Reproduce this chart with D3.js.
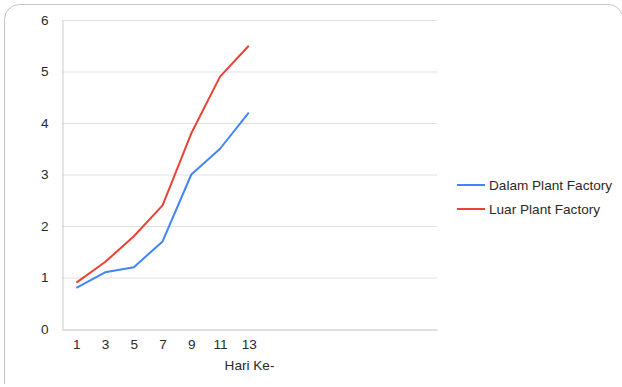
<!DOCTYPE html>
<html>
<head>
<meta charset="utf-8">
<script src="https://cdn.jsdelivr.net/npm/d3@7"></script>
<style>
  html, body { margin: 0; padding: 0; background: #fff; }
  svg { display: block; font-family: "Liberation Sans", Arial, sans-serif; }
</style>
</head>
<body>
<svg id="chart" width="622" height="387"></svg>
<script>
// Hari ke- (days) and plant growth measured inside / outside the plant factory
const days = [1, 3, 5, 7, 9, 11, 13];
const dalam = [0.8, 1.1, 1.2, 1.7, 3.0, 3.5, 4.2];
const luar = [0.9, 1.3, 1.8, 2.4, 3.8, 4.9, 5.5];
const yTicks = [0, 1, 2, 3, 4, 5, 6];
const seriesNames = ["Dalam Plant Factory", "Luar Plant Factory"];
const seriesColors = ["#4285F4", "#EA4335"];
const xTitle = "Hari Ke-";

const svg = d3.select("#chart");
const textColor = "#2a2a2a";
const fontSize = 13.6;

// card outline: left and top edges with rounded corners
svg.append("path")
  .attr("d", "M4.5,384 L4.5,19.5 A15,15 0 0 1 19.5,4.5 L608,4.5 A15,15 0 0 1 622,14")
  .attr("fill", "none")
  .attr("stroke", "#c4c4c4")
  .attr("stroke-width", 1);

const plot = { left: 62, right: 437, top: 20, bottom: 329 };

const x = d3.scaleLinear().domain([0, 26.1]).range([plot.left, plot.right]);
const y = d3.scaleLinear().domain([0, 6]).range([plot.bottom, plot.top]);

// horizontal gridlines
svg.append("g")
  .selectAll("line")
  .data(yTicks.filter(d => d > 0))
  .join("line")
  .attr("x1", plot.left).attr("x2", plot.right)
  .attr("y1", d => y(d) + 0.5).attr("y2", d => y(d) + 0.5)
  .attr("stroke", "#e0e0e0").attr("stroke-width", 1);

// y axis
const yAxis = svg.append("g")
  .attr("transform", `translate(${plot.left + 0.5},0)`)
  .call(d3.axisLeft(y).tickValues(yTicks).tickSize(0).tickPadding(14).tickFormat(d3.format("d")));
yAxis.select(".domain").attr("stroke", "#cccccc");
yAxis.selectAll("text")
  .attr("font-size", fontSize).attr("fill", textColor).attr("font-family", "Liberation Sans, Arial, sans-serif");

// x axis
const xAxis = svg.append("g")
  .attr("transform", `translate(0,${plot.bottom + 0.5})`)
  .call(d3.axisBottom(x).tickValues(days).tickSize(0).tickPadding(10).tickFormat(d3.format("d")));
xAxis.select(".domain").attr("stroke", "#bdbdbd");
xAxis.selectAll("text")
  .attr("font-size", fontSize).attr("fill", textColor).attr("font-family", "Liberation Sans, Arial, sans-serif");

// x axis title
svg.append("text")
  .attr("x", (plot.left + plot.right) / 2)
  .attr("y", 370)
  .attr("text-anchor", "middle")
  .attr("font-size", fontSize).attr("fill", textColor)
  .text(xTitle);

// series lines
const line = d3.line()
  .x((d, i) => x(days[i]))
  .y(d => y(d));

[dalam, luar].forEach((vals, k) => {
  svg.append("path")
    .datum(vals)
    .attr("d", line)
    .attr("fill", "none")
    .attr("stroke", seriesColors[k])
    .attr("stroke-width", 2)
    .attr("stroke-linejoin", "round");
});

// legend
const legend = svg.append("g").attr("transform", "translate(457,185)");
seriesNames.forEach((name, i) => {
  const g = legend.append("g").attr("transform", `translate(0,${i * 24})`);
  g.append("line")
    .attr("x1", 0).attr("x2", 28)
    .attr("stroke", seriesColors[i]).attr("stroke-width", 2);
  g.append("text")
    .attr("x", 32).attr("y", 0).attr("dy", "0.35em")
    .attr("font-size", fontSize).attr("fill", textColor)
    .text(name);
});
</script>
</body>
</html>
